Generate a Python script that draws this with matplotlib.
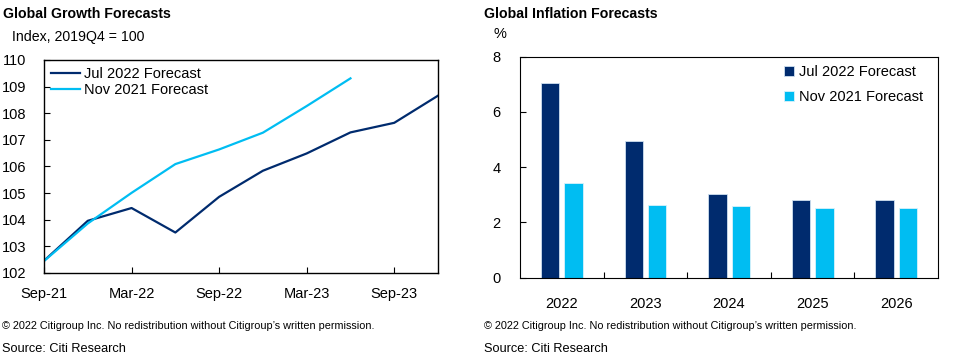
import numpy as np
import matplotlib.pyplot as plt

plt.rcParams['font.family'] = ['Liberation Sans', 'DejaVu Sans']

# Дані: глобальне зростання (квартали)
quarters = ['Sep-21', 'Dec-21', 'Mar-22', 'Jun-22', 'Sep-22', 'Dec-22',
            'Mar-23', 'Jun-23', 'Sep-23', 'Dec-23']
growth_jul22 = [102.46, 103.96, 104.44, 103.52, 104.86, 105.84,
                106.49, 107.28, 107.64, 108.66]
growth_nov21 = [102.45, 103.86, 105.01, 106.09, 106.64, 107.27,
                108.27, 109.31]
growth_ticks = ['Sep-21', 'Mar-22', 'Sep-22', 'Mar-23', 'Sep-23']

# Дані: глобальна інфляція (роки)
years = ['2022', '2023', '2024', '2025', '2026']
infl_jul22 = [7.04, 4.93, 3.03, 2.83, 2.80]
infl_nov21 = [3.41, 2.64, 2.58, 2.53, 2.52]

dark = '#002b6e'
light = '#00bdf2'

fig = plt.figure(figsize=(9.57, 3.59), dpi=100)

# Лівий графік
ax1 = fig.add_axes([0.046, 0.2396, 0.4117, 0.5933])
x1 = np.arange(len(quarters))
ax1.plot(x1, growth_jul22, color=dark, lw=1.6, label='Jul 2022 Forecast')
ax1.plot(x1[:len(growth_nov21)], growth_nov21, color=light, lw=1.6,
         label='Nov 2021 Forecast')
ax1.set_xlim(0, len(quarters) - 1)
ax1.set_ylim(102, 110)
ax1.set_yticks(range(102, 111))
ax1.set_xticks([quarters.index(q) for q in growth_ticks])
ax1.set_xticklabels(growth_ticks)
ax1.tick_params(direction='in', labelsize=10.5, length=4, pad=10)
ax1.tick_params(axis='y', pad=13)
ax1.legend(loc='upper left', frameon=False, fontsize=10.5, handlelength=2.0,
           handletextpad=0.25, labelspacing=0.1, borderaxespad=0.1,
           bbox_to_anchor=(0.0, 1.0))
for s in ax1.spines.values():
    s.set_linewidth(1.0)

# Правий графік
ax2 = fig.add_axes([0.5434, 0.2265, 0.4368, 0.6156])
x2 = np.arange(len(years))
w = 0.22
ax2.bar(x2 - 0.14, infl_jul22, width=w, color=dark, edgecolor='#cfe0f0',
        linewidth=0.6, label='Jul 2022 Forecast')
ax2.bar(x2 + 0.14, infl_nov21, width=w, color=light, edgecolor='#d8f2fb',
        linewidth=0.6, label='Nov 2021 Forecast')
ax2.set_xlim(-0.5, len(years) - 0.5)
ax2.set_ylim(0, 8)
ax2.set_yticks([0, 2, 4, 6, 8])
ax2.set_xticks(x2[:-1] + 0.5)
ax2.set_xticklabels([])
ax2.set_xticks(x2, minor=True)
ax2.set_xticklabels(years, minor=True)
ax2.tick_params(axis='x', which='minor', length=0, labelsize=10.5, pad=14)
ax2.tick_params(direction='in', labelsize=10.5, length=4)
ax2.tick_params(axis='y', pad=14)
ax2.legend(loc='upper right', frameon=False, fontsize=10.5, handlelength=0.7,
           handleheight=0.7, handletextpad=0.3, labelspacing=0.75,
           bbox_to_anchor=(0.995, 1.02))

# Тексти
fig.text(0.003, 0.962, 'Global Growth Forecasts', fontsize=10.2, fontweight='bold', va='center')
fig.text(0.013, 0.897, 'Index, 2019Q4 = 100', fontsize=10.2, va='center')
fig.text(0.506, 0.962, 'Global Inflation Forecasts', fontsize=10.2, fontweight='bold', va='center')
fig.text(0.516, 0.905, '%', fontsize=10.5, va='center')

note = '\u00a9 2022 Citigroup Inc. No redistribution without Citigroup\u2019s written permission.'
fig.text(0.002, 0.093, note, fontsize=7.8, va='center')
fig.text(0.002, 0.028, 'Source: Citi Research', fontsize=9.2, va='center')
fig.text(0.506, 0.093, note, fontsize=7.8, va='center')
fig.text(0.506, 0.028, 'Source: Citi Research', fontsize=9.2, va='center')

fig.savefig('out.png', dpi=100)
